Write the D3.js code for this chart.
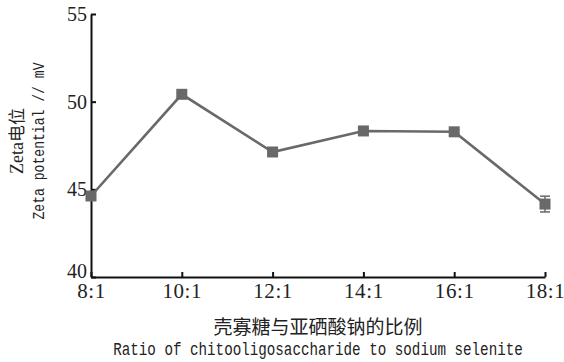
<!DOCTYPE html>
<html>
<head>
<meta charset="utf-8">
<script src="https://cdn.jsdelivr.net/npm/d3@7/dist/d3.min.js"></script>
<style>
  body { margin: 0; background: #fff; }
  svg { display: block; }
  .tick text { fill: #222; }
</style>
</head>
<body>
<div id="chart"></div>
<script>
// Daten
const ratios   = ['8:1', '10:1', '12:1', '14:1', '16:1', '18:1'];
const zeta     = [44.62, 50.42, 47.13, 48.33, 48.28, 44.16];
const zetaErr  = [0.12, 0.1, 0.1, 0.1, 0.1, 0.45];
const yTicks   = [40, 45, 50, 55];

const W = 564, H = 362;
const margin = { top: 14, right: 19, bottom: 85, left: 91 };

const svg = d3.select('#chart').append('svg')
  .attr('width', W).attr('height', H);

const x = d3.scalePoint()
  .domain(ratios)
  .range([margin.left, W - margin.right]);

const y = d3.scaleLinear()
  .domain([40, 55])
  .range([H - margin.bottom, margin.top]);

const serif = '"Liberation Serif", "DejaVu Serif", serif';
const mono  = '"Liberation Mono", "DejaVu Sans Mono", monospace';
const cjk   = '"Noto Sans CJK SC", sans-serif';

// y-Achse (Ticks nach innen)
const gy = svg.append('g')
  .attr('transform', `translate(${margin.left},0)`)
  .call(d3.axisLeft(y).tickValues(yTicks).tickSizeInner(-5).tickSizeOuter(0).tickPadding(4));
gy.selectAll('.tick text')
  .attr('font-family', serif).attr('font-size', 20).attr('dy', '0.33em')
  .attr('y', d => d === 40 ? -6 : 0);   // "40" sitzt wie im Original etwas höher

// x-Achse (Ticks nach oben)
const gx = svg.append('g')
  .attr('transform', `translate(0,${H - margin.bottom})`)
  .call(d3.axisBottom(x).tickSizeInner(-5).tickSizeOuter(0).tickPadding(0));
gx.selectAll('.tick text')
  .attr('y', 21).attr('dy', null)
  .attr('font-family', serif).attr('font-size', 21)
  .attr('letter-spacing', 0.6);

svg.selectAll('.domain').attr('stroke', '#111').attr('stroke-width', 2);
svg.selectAll('.tick line').attr('stroke', '#111').attr('stroke-width', 2);

const data = ratios.map((r, i) => ({ r, v: zeta[i], e: zetaErr[i] }));
const col = '#696969';

// Linie
svg.append('path')
  .datum(data)
  .attr('fill', 'none')
  .attr('stroke', col)
  .attr('stroke-width', 2.6)
  .attr('d', d3.line().x(d => x(d.r)).y(d => y(d.v)));

// Fehlerbalken
const eb = svg.append('g').attr('stroke', col).attr('stroke-width', 1.5);
data.forEach(d => {
  const cx = x(d.r);
  eb.append('line').attr('x1', cx).attr('x2', cx).attr('y1', y(d.v - d.e)).attr('y2', y(d.v + d.e));
  [d.v - d.e, d.v + d.e].forEach(v => {
    eb.append('line').attr('x1', cx - 5).attr('x2', cx + 5).attr('y1', y(v)).attr('y2', y(v));
  });
});

// Marker
svg.append('g').selectAll('rect')
  .data(data).enter().append('rect')
  .attr('x', d => x(d.r) - 5.5)
  .attr('y', d => y(d.v) - 5.5)
  .attr('width', 11).attr('height', 11)
  .attr('fill', col);

// Achsentitel x
const xc = (margin.left + W - margin.right) / 2;
svg.append('text')
  .attr('x', xc)
  .attr('y', 334)
  .attr('text-anchor', 'middle')
  .attr('font-family', cjk)
  .attr('font-size', 19)
  .attr('fill', '#222')
  .text('壳寡糖与亚硒酸钠的比例');

svg.append('text')
  .attr('transform', `translate(${xc},355) scale(0.79,1)`)
  .attr('text-anchor', 'middle')
  .attr('font-family', mono)
  .attr('font-size', 18)
  .attr('fill', '#222')
  .text('Ratio of chitooligosaccharide to sodium selenite');

// Achsentitel y
const ty = svg.append('g').attr('transform', 'translate(0,141) rotate(-90)');
ty.append('text')
  .attr('x', 0).attr('y', 23)
  .attr('text-anchor', 'middle')
  .attr('fill', '#222')
  .call(t => {
    t.append('tspan').attr('font-family', serif).attr('font-size', 18).text('Zeta');
    t.append('tspan').attr('font-family', cjk).attr('font-size', 17).text('电位');
  });
ty.append('text')
  .attr('transform', 'translate(0,44) scale(0.77,1)')
  .attr('text-anchor', 'middle')
  .attr('font-family', mono)
  .attr('font-size', 17)
  .attr('fill', '#222')
  .text('Zeta potential // mV');
</script>
</body>
</html>
